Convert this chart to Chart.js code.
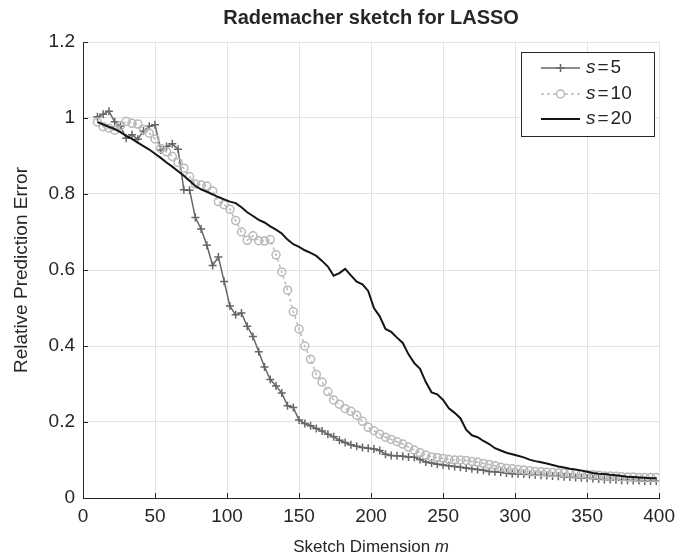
<!DOCTYPE html>
<html>
<head>
<meta charset="utf-8">
<script src="https://cdn.jsdelivr.net/npm/chart.js@4"></script>
<style>
  html, body { margin: 0; padding: 0; background: #fff; }
  #wrap { width: 682px; height: 560px; }
</style>
</head>
<body>
<div id="wrap"><canvas id="lassoChart"></canvas></div>
<script>
// sketch dimension m
const mValues = [
  10, 14, 18, 22, 26, 30, 34, 38, 42, 46, 50, 54, 58, 62, 66, 70, 74, 78, 82, 86,
  90, 94, 98, 102, 106, 110, 114, 118, 122, 126, 130, 134, 138, 142, 146, 150, 154, 158, 162, 166,
  170, 174, 178, 182, 186, 190, 194, 198, 202, 206, 210, 214, 218, 222, 226, 230, 234, 238, 242, 246,
  250, 254, 258, 262, 266, 270, 274, 278, 282, 286, 290, 294, 298, 302, 306, 310, 314, 318, 322, 326,
  330, 334, 338, 342, 346, 350, 354, 358, 362, 366, 370, 374, 378, 382, 386, 390, 394, 398,
];

const errS5 = [
  1.003, 1.010, 1.018, 0.990, 0.978, 0.947, 0.956, 0.944, 0.966, 0.978, 0.982, 0.916, 0.925, 0.932, 0.918, 0.811, 0.810, 0.738, 0.708, 0.665,
  0.612, 0.634, 0.570, 0.505, 0.482, 0.487, 0.452, 0.425, 0.385, 0.345, 0.312, 0.295, 0.276, 0.243, 0.238, 0.205, 0.196, 0.190, 0.183, 0.176,
  0.168, 0.161, 0.152, 0.146, 0.140, 0.136, 0.133, 0.131, 0.129, 0.125, 0.115, 0.112, 0.111, 0.110, 0.108, 0.107, 0.101, 0.095, 0.092, 0.089,
  0.087, 0.085, 0.083, 0.081, 0.079, 0.077, 0.075, 0.073, 0.070, 0.069, 0.068, 0.066, 0.064, 0.064, 0.063, 0.062, 0.061, 0.060, 0.059, 0.058,
  0.057, 0.056, 0.055, 0.054, 0.053, 0.052, 0.051, 0.050, 0.049, 0.049, 0.048, 0.047, 0.047, 0.046, 0.046, 0.045, 0.045, 0.045,
];

const errS10 = [
  0.989, 0.977, 0.973, 0.968, 0.980, 0.991, 0.986, 0.984, 0.970, 0.960, 0.945, 0.920, 0.911, 0.899, 0.883, 0.868, 0.846, 0.826, 0.824, 0.821,
  0.808, 0.780, 0.772, 0.760, 0.730, 0.700, 0.678, 0.690, 0.677, 0.676, 0.680, 0.640, 0.595, 0.547, 0.490, 0.445, 0.400, 0.365, 0.325, 0.305,
  0.280, 0.258, 0.247, 0.235, 0.228, 0.218, 0.202, 0.186, 0.177, 0.168, 0.160, 0.154, 0.148, 0.142, 0.134, 0.126, 0.119, 0.113, 0.108, 0.106,
  0.104, 0.101, 0.100, 0.100, 0.099, 0.096, 0.094, 0.091, 0.088, 0.085, 0.081, 0.078, 0.077, 0.075, 0.074, 0.072, 0.070, 0.069, 0.068, 0.067,
  0.066, 0.066, 0.065, 0.064, 0.063, 0.062, 0.061, 0.060, 0.058, 0.058, 0.057, 0.056, 0.055, 0.055, 0.054, 0.054, 0.054, 0.054,
];

const errS20 = [
  0.990, 0.983, 0.977, 0.971, 0.963, 0.953, 0.945, 0.935, 0.926, 0.917, 0.906, 0.895, 0.883, 0.872, 0.860, 0.848, 0.835, 0.821, 0.812, 0.806,
  0.799, 0.792, 0.786, 0.780, 0.776, 0.765, 0.752, 0.742, 0.732, 0.725, 0.715, 0.706, 0.696, 0.680, 0.668, 0.661, 0.652, 0.645, 0.637, 0.624,
  0.609, 0.585, 0.592, 0.603, 0.586, 0.569, 0.562, 0.545, 0.500, 0.478, 0.445, 0.437, 0.422, 0.408, 0.378, 0.355, 0.340, 0.305, 0.278, 0.273,
  0.258, 0.236, 0.224, 0.210, 0.180, 0.165, 0.160, 0.150, 0.142, 0.131, 0.125, 0.119, 0.115, 0.111, 0.107, 0.101, 0.097, 0.094, 0.091, 0.087,
  0.083, 0.080, 0.077, 0.075, 0.072, 0.069, 0.066, 0.064, 0.063, 0.061, 0.060, 0.058, 0.056, 0.055, 0.054, 0.053, 0.052, 0.052,
];

const seriesNames = ["5", "10", "20"];
const xTicks = [0, 50, 100, 150, 200, 250, 300, 350, 400];
const yTicks = [0, 0.2, 0.4, 0.6, 0.8, 1, 1.2];

const FONT = "'Liberation Sans', Arial, Helvetica, sans-serif";
const AXIS_DARK = "#262626";

function points(ys) {
  return mValues.map((m, i) => ({ x: m, y: ys[i] }));
}

// inward tick marks, x title with italic m, and the boxed legend
const matlabBits = {
  id: "matlabBits",
  afterDraw(chart) {
    const ctx = chart.ctx;
    const area = chart.chartArea;
    const xs = chart.scales.x;
    const ys = chart.scales.y;
    ctx.save();
    ctx.strokeStyle = AXIS_DARK;
    ctx.lineWidth = 1;
    ctx.beginPath();
    xTicks.forEach((v) => {
      const px = Math.round(xs.getPixelForValue(v)) + 0.5;
      ctx.moveTo(px, area.bottom);
      ctx.lineTo(px, area.bottom - 5);
    });
    yTicks.forEach((v) => {
      const py = Math.round(ys.getPixelForValue(v)) + 0.5;
      ctx.moveTo(area.left, py);
      ctx.lineTo(area.left + 5, py);
    });
    ctx.stroke();

    // x axis title
    ctx.fillStyle = AXIS_DARK;
    ctx.textBaseline = "middle";
    ctx.textAlign = "left";
    const normal = "17px " + FONT;
    const ital = "italic 17px " + FONT;
    ctx.font = normal;
    const w1 = ctx.measureText("Sketch Dimension ").width;
    ctx.font = ital;
    const w2 = ctx.measureText("m").width;
    let tx = (area.left + area.right) / 2 - (w1 + w2) / 2;
    const ty = 547;
    ctx.font = normal;
    ctx.fillText("Sketch Dimension ", tx, ty);
    ctx.font = ital;
    ctx.fillText("m", tx + w1, ty);

    // legend box
    const bx = 521.5, by = 52.5, bw = 133, bh = 84;
    ctx.fillStyle = "#ffffff";
    ctx.fillRect(bx, by, bw, bh);
    ctx.strokeStyle = AXIS_DARK;
    ctx.strokeRect(bx, by, bw, bh);
    const rows = [68, 94, 119];
    chart.data.datasets.forEach((ds, i) => {
      const y = rows[i];
      ctx.save();
      ctx.strokeStyle = ds.borderColor;
      ctx.lineWidth = ds.borderWidth;
      ctx.setLineDash(ds.borderDash || []);
      ctx.beginPath();
      ctx.moveTo(541, y);
      ctx.lineTo(580, y);
      ctx.stroke();
      ctx.setLineDash([]);
      if (ds.pointRadius > 0) {
        ctx.lineWidth = ds.pointBorderWidth;
        ctx.strokeStyle = ds.pointBorderColor;
        ctx.beginPath();
        if (ds.pointStyle === "cross") {
          ctx.moveTo(560.5 - 4, y);
          ctx.lineTo(560.5 + 4, y);
          ctx.moveTo(560.5, y - 4);
          ctx.lineTo(560.5, y + 4);
        } else {
          ctx.fillStyle = "#ffffff";
          ctx.arc(560.5, y, ds.pointRadius, 0, Math.PI * 2);
          ctx.fill();
        }
        ctx.stroke();
      }
      ctx.restore();
      ctx.fillStyle = AXIS_DARK;
      ctx.font = "italic 19px " + FONT;
      ctx.fillText("s", 586, y);
      const sw = ctx.measureText("s").width;
      ctx.font = "19px " + FONT;
      ctx.fillText("=", 586 + sw + 2, y);
      const ew = ctx.measureText("=").width;
      ctx.fillText(seriesNames[i], 586 + sw + ew + 4, y);
    });
    ctx.restore();
  },
};

const ctx = document.getElementById("lassoChart").getContext("2d");
new Chart(ctx, {
  type: "line",
  data: {
    datasets: [
      {
        label: "s=5",
        data: points(errS5),
        borderColor: "#666666",
        borderWidth: 1.5,
        pointStyle: "cross",
        pointRadius: 4,
        pointBorderColor: "#666666",
        pointBorderWidth: 1.5,
        tension: 0,
        order: 3,
      },
      {
        label: "s=10",
        data: points(errS10),
        borderColor: "#b9b9b9",
        borderWidth: 1.5,
        borderDash: [3, 3],
        pointStyle: "circle",
        pointRadius: 4,
        pointBackgroundColor: "rgba(255,255,255,0)",
        pointBorderColor: "#b9b9b9",
        pointBorderWidth: 1.5,
        tension: 0,
        order: 2,
      },
      {
        label: "s=20",
        data: points(errS20),
        borderColor: "#151515",
        borderWidth: 2,
        pointRadius: 0,
        tension: 0,
        order: 1,
      },
    ],
  },
  options: {
    responsive: true,
    maintainAspectRatio: false,
    animation: false,
    layout: { padding: { left: 0, right: 19, top: 0, bottom: 0 } },
    plugins: {
      legend: { display: false },
      tooltip: { enabled: false },
      title: {
        display: true,
        text: "Rademacher sketch for LASSO",
        color: AXIS_DARK,
        fullSize: false,
        font: { family: FONT, size: 20, weight: "bold" },
        padding: { top: 6, bottom: 12 },
      },
    },
    scales: {
      x: {
        type: "linear",
        min: 0,
        max: 400,
        afterFit(scale) { scale.height = 62; },
        afterBuildTicks(scale) { scale.ticks = xTicks.map((v) => ({ value: v })); },
        grid: { color: "#e3e3e3", drawTicks: false },
        border: { display: true, color: AXIS_DARK, width: 1 },
        ticks: {
          color: AXIS_DARK,
          padding: 7,
          maxRotation: 0,
          font: { family: FONT, size: 19 },
        },
      },
      y: {
        min: 0,
        max: 1.2,
        afterFit(scale) { scale.width = 83; },
        afterBuildTicks(scale) { scale.ticks = yTicks.map((v) => ({ value: v })); },
        grid: { color: "#e3e3e3", drawTicks: false },
        border: { display: true, color: AXIS_DARK, width: 1 },
        ticks: {
          color: AXIS_DARK,
          padding: 8,
          font: { family: FONT, size: 19 },
          callback: (v) => String(+v.toFixed(1)),
        },
        title: {
          display: true,
          text: "Relative Prediction Error",
          color: AXIS_DARK,
          font: { family: FONT, size: 19 },
          padding: { top: 10, bottom: 0 },
        },
      },
    },
  },
  plugins: [matlabBits],
});
</script>
</body>
</html>
